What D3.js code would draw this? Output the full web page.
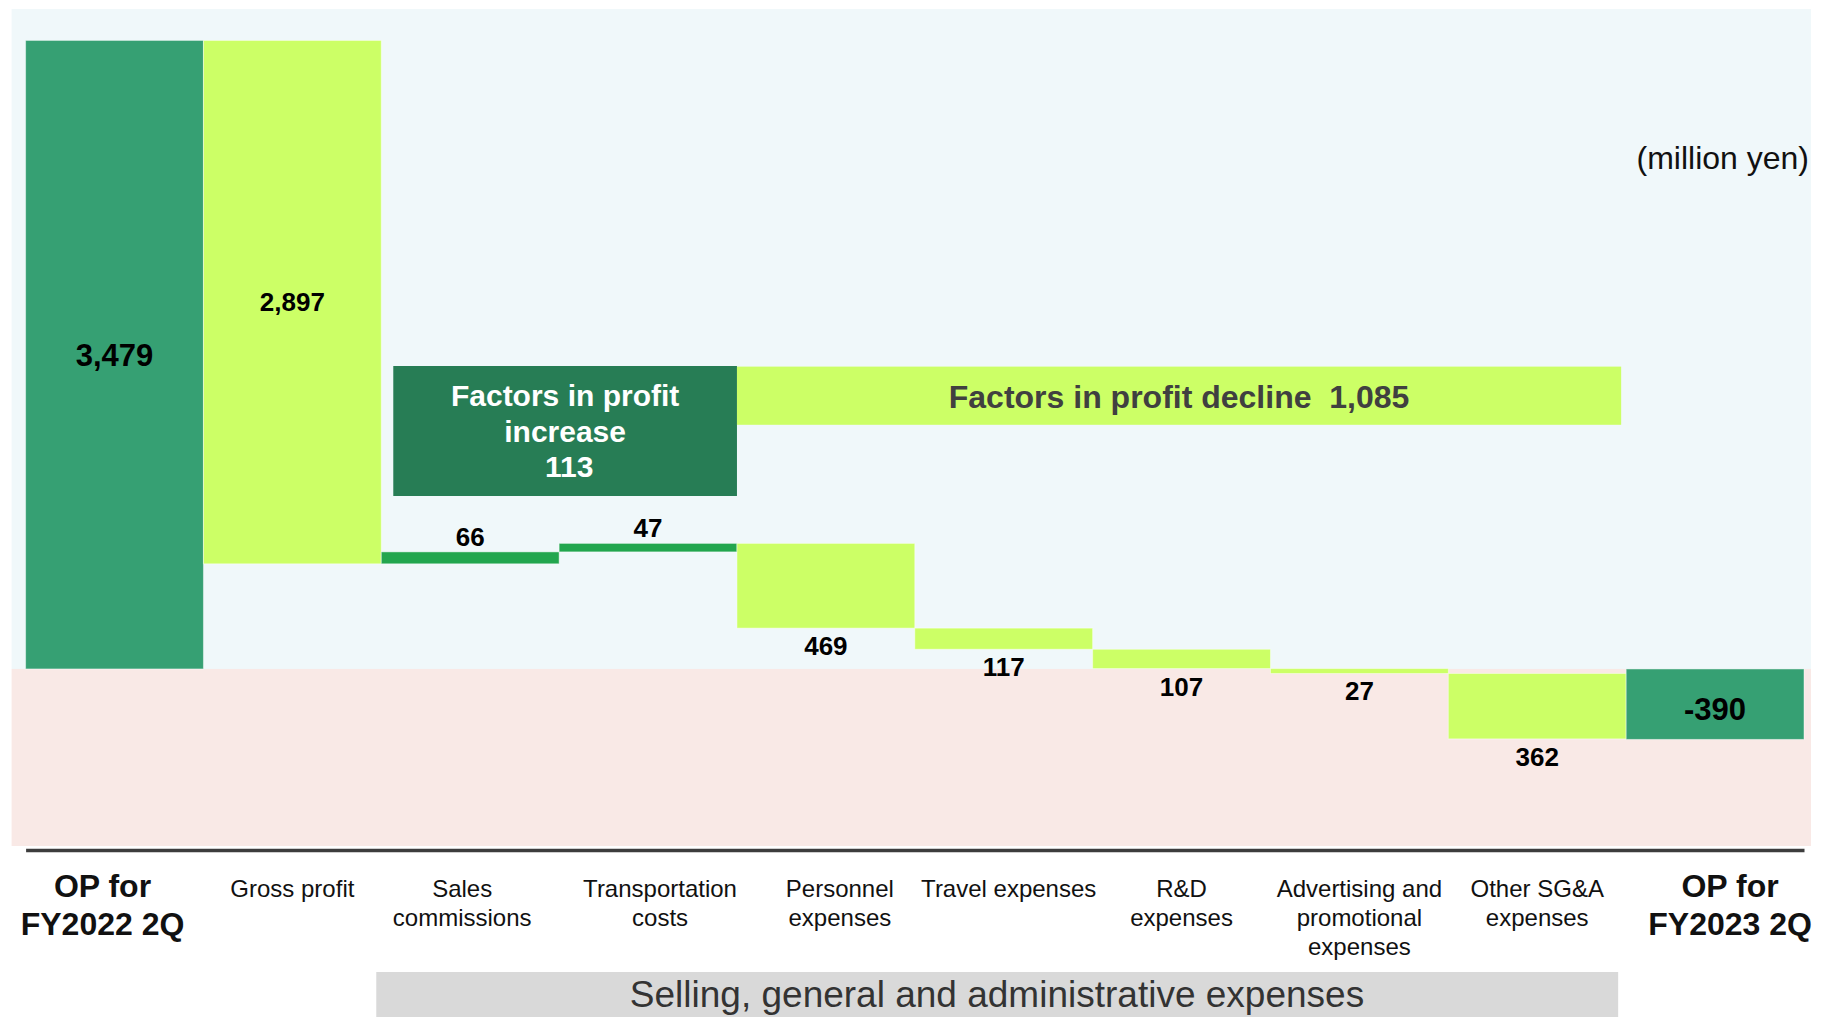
<!DOCTYPE html>
<html>
<head>
<meta charset="utf-8">
<script src="https://cdn.jsdelivr.net/npm/d3@7"></script>
<style>
  html, body { margin: 0; padding: 0; background: #ffffff; }
  svg { display: block; }
  text { font-family: "Liberation Sans", Arial, sans-serif; }
</style>
</head>
<body>
<svg id="chart" width="1825" height="1017"></svg>
<script>
// ---- data ----
const categories = [
  "OP for\nFY2022 2Q", "Gross profit", "Sales\ncommissions", "Transportation\ncosts",
  "Personnel\nexpenses", "Travel expenses", "R&D\nexpenses",
  "Advertising and\npromotional\nexpenses", "Other SG&A\nexpenses", "OP for\nFY2023 2Q"
];
const values = [3479, -2897, 66, 47, -469, -117, -107, -27, -362, -390];
const kinds = ["total", "delta", "delta", "delta", "delta", "delta", "delta", "delta", "delta", "total"];
const valueLabels = ["3,479", "2,897", "66", "47", "469", "117", "107", "27", "362", "-390"];
const increaseTitle = ["Factors in profit", "increase", " 113"];
const declineTitle = "Factors in profit decline  1,085";
const unitLabel = "(million yen)";
const groupLabel = "Selling, general and administrative expenses";
const yDomain = [-980, 3653];

// ---- layout ----
const svg = d3.select("#chart");
const x = d3.scaleBand().domain(categories).range([25.6, 1804]).padding(0);
const y = d3.scaleLinear().domain(yDomain).range([846, 9]);
const bw = x.bandwidth();

// backgrounds
svg.append("rect").attr("x", 11.6).attr("width", 1811 - 11.6)
  .attr("y", y(yDomain[1])).attr("height", y(0) - y(yDomain[1])).attr("fill", "#f0f8fa");
svg.append("rect").attr("x", 11.6).attr("width", 1811 - 11.6)
  .attr("y", y(0)).attr("height", y(yDomain[0]) - y(0)).attr("fill", "#f9e9e6");

// waterfall computation
let running = 0;
const bars = categories.map((c, i) => {
  let start, end;
  if (kinds[i] === "total") { start = 0; end = values[i]; running = values[i]; }
  else { start = running; end = running + values[i]; running = end; }
  return { cat: c, i, start, end, v: values[i], kind: kinds[i], label: valueLabels[i] };
});

const fillOf = d => d.kind === "total" ? "#36a073" : (d.v > 0 ? "#22a64e" : "#ccff66");

svg.append("g").selectAll("rect").data(bars).join("rect")
  .attr("x", d => x(d.cat))
  .attr("width", bw)
  .attr("y", d => y(Math.max(d.start, d.end)))
  .attr("height", d => Math.abs(y(d.start) - y(d.end)))
  .attr("fill", fillOf)
  .attr("stroke", "rgba(255,255,255,0.45)")
  .attr("stroke-width", 1);

// value labels
svg.append("g").selectAll("text").data(bars).join("text")
  .attr("text-anchor", "middle")
  .attr("font-weight", "bold")
  .attr("fill", "#000")
  .attr("font-size", d => d.kind === "total" ? 31 : 26)
  .attr("x", d => x(d.cat) + bw / 2)
  .attr("y", d => {
    const top = y(Math.max(d.start, d.end)), bot = y(Math.min(d.start, d.end));
    const h = bot - top;
    const fs = d.kind === "total" ? 31 : 26;
    if (d.kind === "total" || h > 200) return (top + bot) / 2 + fs * 0.36 + (d.kind === "total" && d.v < 0 ? 5 : 0);
    if (d.v > 0) return top - 6;
    return bot + 27;
  })
  .text(d => d.label);

// annotation: increase box
const incX0 = x(categories[2]) + 12, incX1 = x(categories[4]);
svg.append("rect").attr("x", incX0).attr("y", 366).attr("width", incX1 - incX0).attr("height", 130)
  .attr("fill", "#277d55");
const incCx = (incX0 + incX1) / 2;
svg.append("g").selectAll("text").data(increaseTitle).join("text")
  .attr("x", incCx).attr("y", (d, i) => 406 + i * 35.5)
  .attr("text-anchor", "middle").attr("font-weight", "bold")
  .attr("font-size", 30).attr("fill", "#ffffff")
  .style("white-space", "pre")
  .text(d => d);

// annotation: decline box
const decX0 = x(categories[4]), decX1 = x(categories[9]) - 5;
svg.append("rect").attr("x", decX0).attr("y", 366.6).attr("width", decX1 - decX0).attr("height", 58.2)
  .attr("fill", "#ccff66");
svg.append("text").attr("x", (decX0 + decX1) / 2).attr("y", 408)
  .attr("text-anchor", "middle").attr("font-weight", "bold")
  .attr("font-size", 32).attr("fill", "#404040")
  .style("white-space", "pre")
  .text(declineTitle);

// unit label
svg.append("text").attr("x", 1809).attr("y", 169).attr("text-anchor", "end")
  .attr("font-size", 32).attr("fill", "#111").text(unitLabel);

// axis baseline
const axisG = svg.append("g").attr("transform", "translate(0,850)");
axisG.call(d3.axisBottom(x).tickSize(0).tickFormat(""));
axisG.select(".domain").attr("stroke", "#3d3d3d").attr("stroke-width", 3.5);

// category labels
const nudges = [-12, 0, -8, 12, 14, 5, 0, 0, 0, 15];
const catG = svg.append("g");
categories.forEach((c, i) => {
  const bold = kinds[i] === "total";
  const fs = bold ? 32 : 24;
  const lh = bold ? 38.4 : 29;
  const t = catG.append("text")
    .attr("text-anchor", "middle")
    .attr("font-size", fs)
    .attr("font-weight", bold ? "bold" : "normal")
    .attr("fill", "#111");
  c.split("\n").forEach((line, j) => {
    t.append("tspan").attr("x", x(c) + bw / 2 + nudges[i]).attr("y", 897 + j * lh).text(line);
  });
});

// SG&A group box
const gx0 = x(categories[2]) - 5, gx1 = x(categories[9]) - 8;
svg.append("rect").attr("x", gx0).attr("y", 972).attr("width", gx1 - gx0).attr("height", 45)
  .attr("fill", "#d9d9d9");
svg.append("text").attr("x", 997).attr("y", 1007).attr("text-anchor", "middle")
  .attr("font-size", 37).attr("fill", "#333").text(groupLabel);
</script>
</body>
</html>
